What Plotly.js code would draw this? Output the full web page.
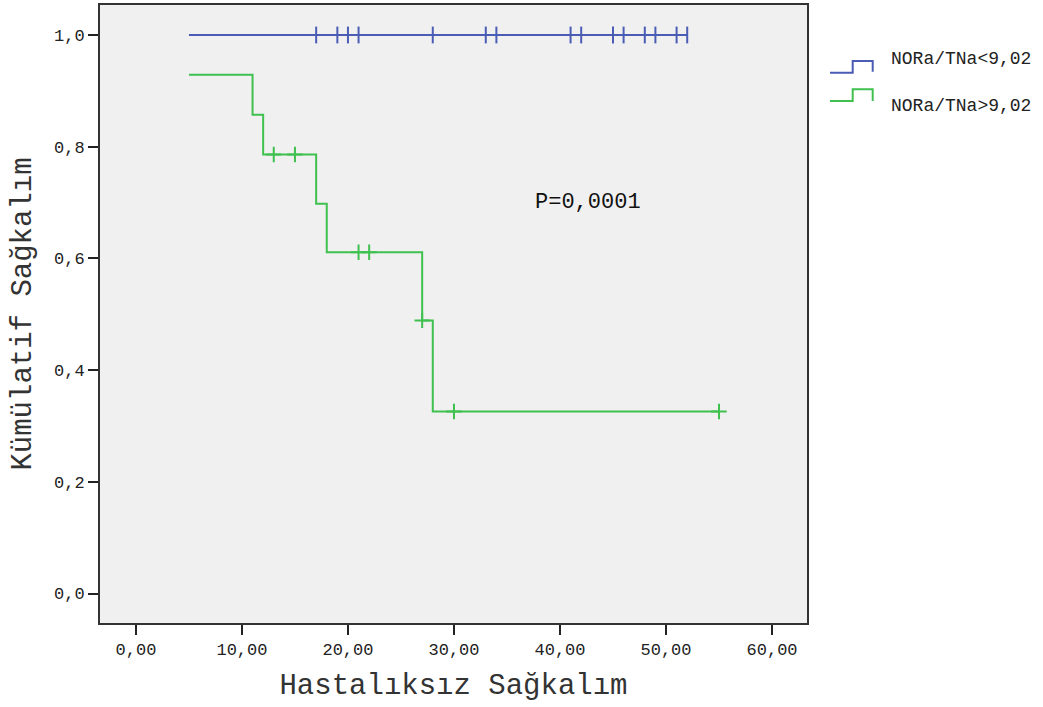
<!DOCTYPE html>
<html>
<head>
<meta charset="utf-8">
<script src="https://cdn.plot.ly/plotly-3.0.1.min.js"></script>
<style>html,body{margin:0;padding:0;background:#fff;}#chart{width:1043px;height:707px;}</style>
</head>
<body>
<div id="chart"></div>
<script>
// ---- data ----
var groupNames = ["NORa/TNa<9,02", "NORa/TNa>9,02"];
var blueTimes = [5, 52];
var blueSurv = [1.0, 1.0];
var blueCensor = [17, 19, 20, 21, 28, 33, 34, 41, 42, 45, 46, 48, 49, 51, 52];
var greenTimes = [5, 11, 12, 17, 18, 27, 28, 55];
var greenSurv = [0.929, 0.857, 0.786, 0.698, 0.611, 0.489, 0.326, 0.326];
var greenCensor = [13, 15, 21, 22, 27, 30, 55];
var xTicks = [0, 10, 20, 30, 40, 50, 60];
var yTicks = [0, 0.2, 0.4, 0.6, 0.8, 1.0];
var pText = "P=0,0001";

var blueColor = "#4a5cb4";
var greenColor = "#3fc04f";

function stepAt(times, surv, t) {
  var v = surv[0];
  for (var i = 0; i < times.length; i++) { if (times[i] <= t) v = surv[i]; }
  return v;
}

var traces = [
  {x: blueTimes, y: blueSurv, mode: "lines", line: {shape: "hv", color: blueColor, width: 2}, name: groupNames[0], showlegend: false, hoverinfo: "skip"},
  {x: greenTimes, y: greenSurv, mode: "lines", line: {shape: "hv", color: greenColor, width: 2}, name: groupNames[1], showlegend: false, hoverinfo: "skip"},
  {x: blueCensor, y: blueCensor.map(function (t) { return stepAt(blueTimes, blueSurv, t); }), mode: "markers",
   marker: {symbol: "line-ns", size: 12, line: {color: blueColor, width: 2}}, showlegend: false, hoverinfo: "skip"},
  {x: greenCensor, y: greenCensor.map(function (t) { return stepAt(greenTimes, greenSurv, t); }), mode: "markers",
   marker: {symbol: "cross-thin", size: 11, line: {color: greenColor, width: 2}}, showlegend: false, hoverinfo: "skip"}
];

// pixel -> paper helpers for the legend and note
var L = 100, R = 807, T = 5, B = 623;
function px(x) { return (x - L) / (R - L); }
function py(y) { return (B - y) / (B - T); }
function stepPath(pts) {
  return pts.map(function (p, i) { return (i ? "L" : "M") + px(p[0]) + "," + py(p[1]); }).join(" ");
}

var font = "Liberation Mono, Courier New, monospace";
var layout = {
  width: 1043, height: 707,
  margin: {l: L, r: 1043 - R, t: T, b: 707 - B},
  paper_bgcolor: "#ffffff",
  plot_bgcolor: "#f0f0f0",
  separators: ", ",
  showlegend: false,
  xaxis: {
    range: [-3.39, 63.3], tickvals: xTicks, tickformat: ".2f",
    ticks: "outside", ticklen: 10, tickwidth: 2, tickcolor: "#222",
    showline: true, mirror: true, linecolor: "#333", linewidth: 2,
    showgrid: false, zeroline: false,
    tickfont: {family: font, size: 17, color: "#222"},
    title: {text: "Hastalıksız Sağkalım", font: {family: font, size: 29, color: "#333"}, standoff: 14}
  },
  yaxis: {
    range: [-0.0528, 1.0537], tickvals: yTicks, tickformat: ".1f",
    ticks: "outside", ticklen: 10, tickwidth: 2, tickcolor: "#222",
    showline: true, mirror: true, linecolor: "#333", linewidth: 2,
    showgrid: false, zeroline: false,
    tickfont: {family: font, size: 17, color: "#222"},
    title: {text: "Kümülatif Sağkalım", font: {family: font, size: 29, color: "#333"}, standoff: 14}
  },
  annotations: [
    {x: px(588), y: py(202), xref: "paper", yref: "paper", xanchor: "center", yanchor: "middle", text: pText, showarrow: false,
     font: {family: font, size: 22, color: "#111"}},
    {x: px(889), y: py(58.5), xref: "paper", yref: "paper", xanchor: "left", yanchor: "middle", text: groupNames[0], showarrow: false,
     font: {family: font, size: 18, color: "#222"}},
    {x: px(889), y: py(105.5), xref: "paper", yref: "paper", xanchor: "left", yanchor: "middle", text: groupNames[1], showarrow: false,
     font: {family: font, size: 18, color: "#222"}}
  ],
  shapes: [
    {type: "path", xref: "paper", yref: "paper", path: stepPath([[830, 72.7], [852.7, 72.7], [852.7, 61], [872.7, 61], [872.7, 71.7]]),
     line: {color: blueColor, width: 2}},
    {type: "path", xref: "paper", yref: "paper", path: stepPath([[830, 101], [852.7, 101], [852.7, 89.3], [872.7, 89.3], [872.7, 101]]),
     line: {color: greenColor, width: 2}}
  ]
};

Plotly.newPlot("chart", traces, layout, {displayModeBar: false, staticPlot: true});
</script>
</body>
</html>
